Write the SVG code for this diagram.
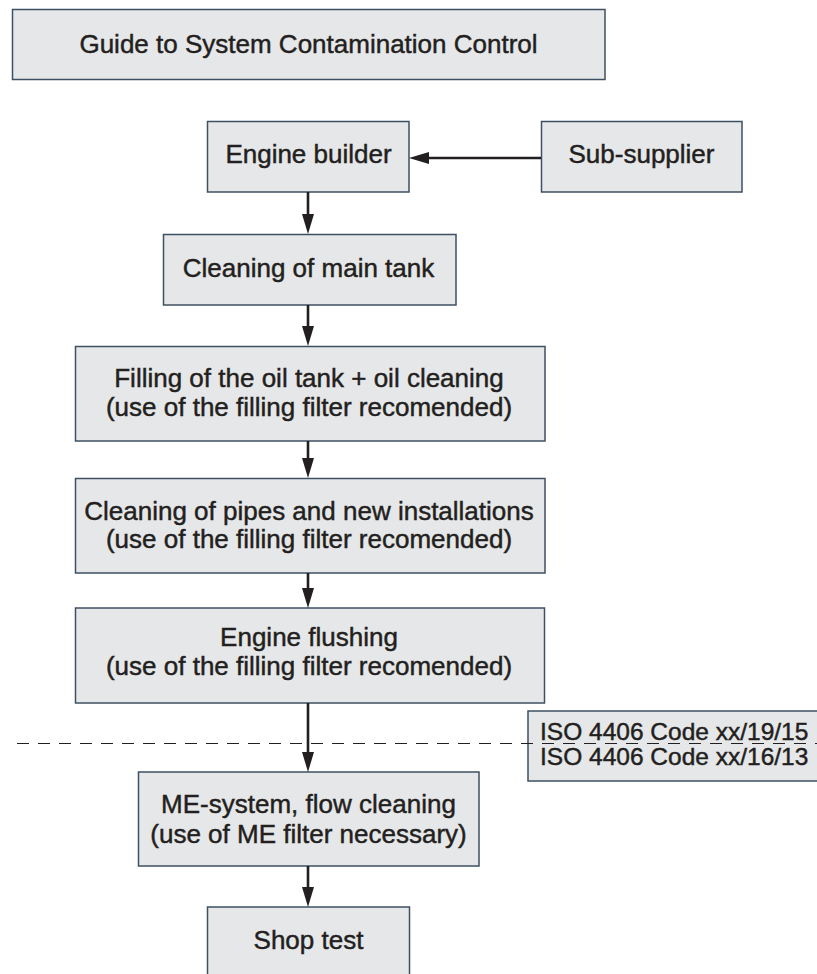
<svg xmlns="http://www.w3.org/2000/svg" width="817" height="974" viewBox="0 0 817 974">
<style>
.box{fill:#e6e7e8;stroke:#3e5063;stroke-width:1.5}
.t{font-family:"Liberation Sans",Arial,sans-serif;font-size:26px;fill:#231f20;stroke:#231f20;stroke-width:0.45;text-anchor:middle}
.iso{font-size:24.5px;text-anchor:start}
.c{stroke:#231f20;stroke-width:2.6;fill:none}
.dash{stroke:#231f20;stroke-width:1.1;fill:none;stroke-dasharray:12 9}
</style>
<defs>
<marker id="ah" viewBox="0 0 20 12" markerWidth="20" markerHeight="12" refX="12" refY="6" orient="auto" markerUnits="userSpaceOnUse">
<path d="M0,0 L20,6 L0,12 z" fill="#231f20"/>
</marker>
</defs>
<rect width="817" height="974" fill="#ffffff"/>
<g id="title"><rect class="box" x="12.5" y="9.5" width="592.5" height="70"/><text class="t" x="308.5" y="53">Guide to System Contamination Control</text></g>
<g id="engine-builder"><rect class="box" x="207.5" y="121.5" width="201.5" height="70.5"/><text class="t" x="308.5" y="163">Engine builder</text></g>
<g id="sub-supplier"><rect class="box" x="541.5" y="121.5" width="200.5" height="70.5"/><text class="t" x="641.5" y="163">Sub-supplier</text></g>
<g id="cleaning-main-tank"><rect class="box" x="163.5" y="234.5" width="292.5" height="70.5"/><text class="t" x="308.5" y="277">Cleaning of main tank</text></g>
<g id="filling"><rect class="box" x="75.5" y="346.5" width="469.5" height="94.5"/><text class="t" x="309" y="387">Filling of the oil tank + oil cleaning</text><text class="t" x="309" y="415.5">(use of the filling filter recomended)</text></g>
<g id="cleaning-pipes"><rect class="box" x="75.5" y="478.5" width="469.5" height="94.5"/><text class="t" x="309" y="519.5">Cleaning of pipes and new installations</text><text class="t" x="309" y="548">(use of the filling filter recomended)</text></g>
<g id="engine-flushing"><rect class="box" x="75.5" y="608" width="469" height="95"/><text class="t" x="309" y="646">Engine flushing</text><text class="t" x="309" y="675">(use of the filling filter recomended)</text></g>
<g id="iso-code"><rect class="box" x="528" y="711" width="300" height="70"/><text class="t iso" x="540" y="739.5">ISO 4406 Code xx/19/15</text><text class="t iso" x="540" y="765">ISO 4406 Code xx/16/13</text></g>
<g id="me-system"><rect class="box" x="138.5" y="772" width="340.5" height="94"/><text class="t" x="308.5" y="813">ME-system, flow cleaning</text><text class="t" x="308.5" y="843">(use of ME filter necessary)</text></g>
<g id="shop-test"><rect class="box" x="207.5" y="907" width="202" height="80"/><text class="t" x="308.5" y="948.5">Shop test</text></g>
<g id="connectors">
<line class="c" x1="541" y1="158" x2="417" y2="158" marker-end="url(#ah)"/>
<line class="c" x1="308" y1="192" x2="308" y2="226" marker-end="url(#ah)"/>
<line class="c" x1="308" y1="305" x2="308" y2="338" marker-end="url(#ah)"/>
<line class="c" x1="308" y1="441" x2="308" y2="470" marker-end="url(#ah)"/>
<line class="c" x1="308" y1="573" x2="308" y2="600" marker-end="url(#ah)"/>
<line class="c" x1="308" y1="703" x2="308" y2="764" marker-end="url(#ah)"/>
<line class="c" x1="308" y1="866" x2="308" y2="899" marker-end="url(#ah)"/>
<line class="dash" x1="17" y1="743.5" x2="817" y2="743.5"/>
</g>
</svg>
